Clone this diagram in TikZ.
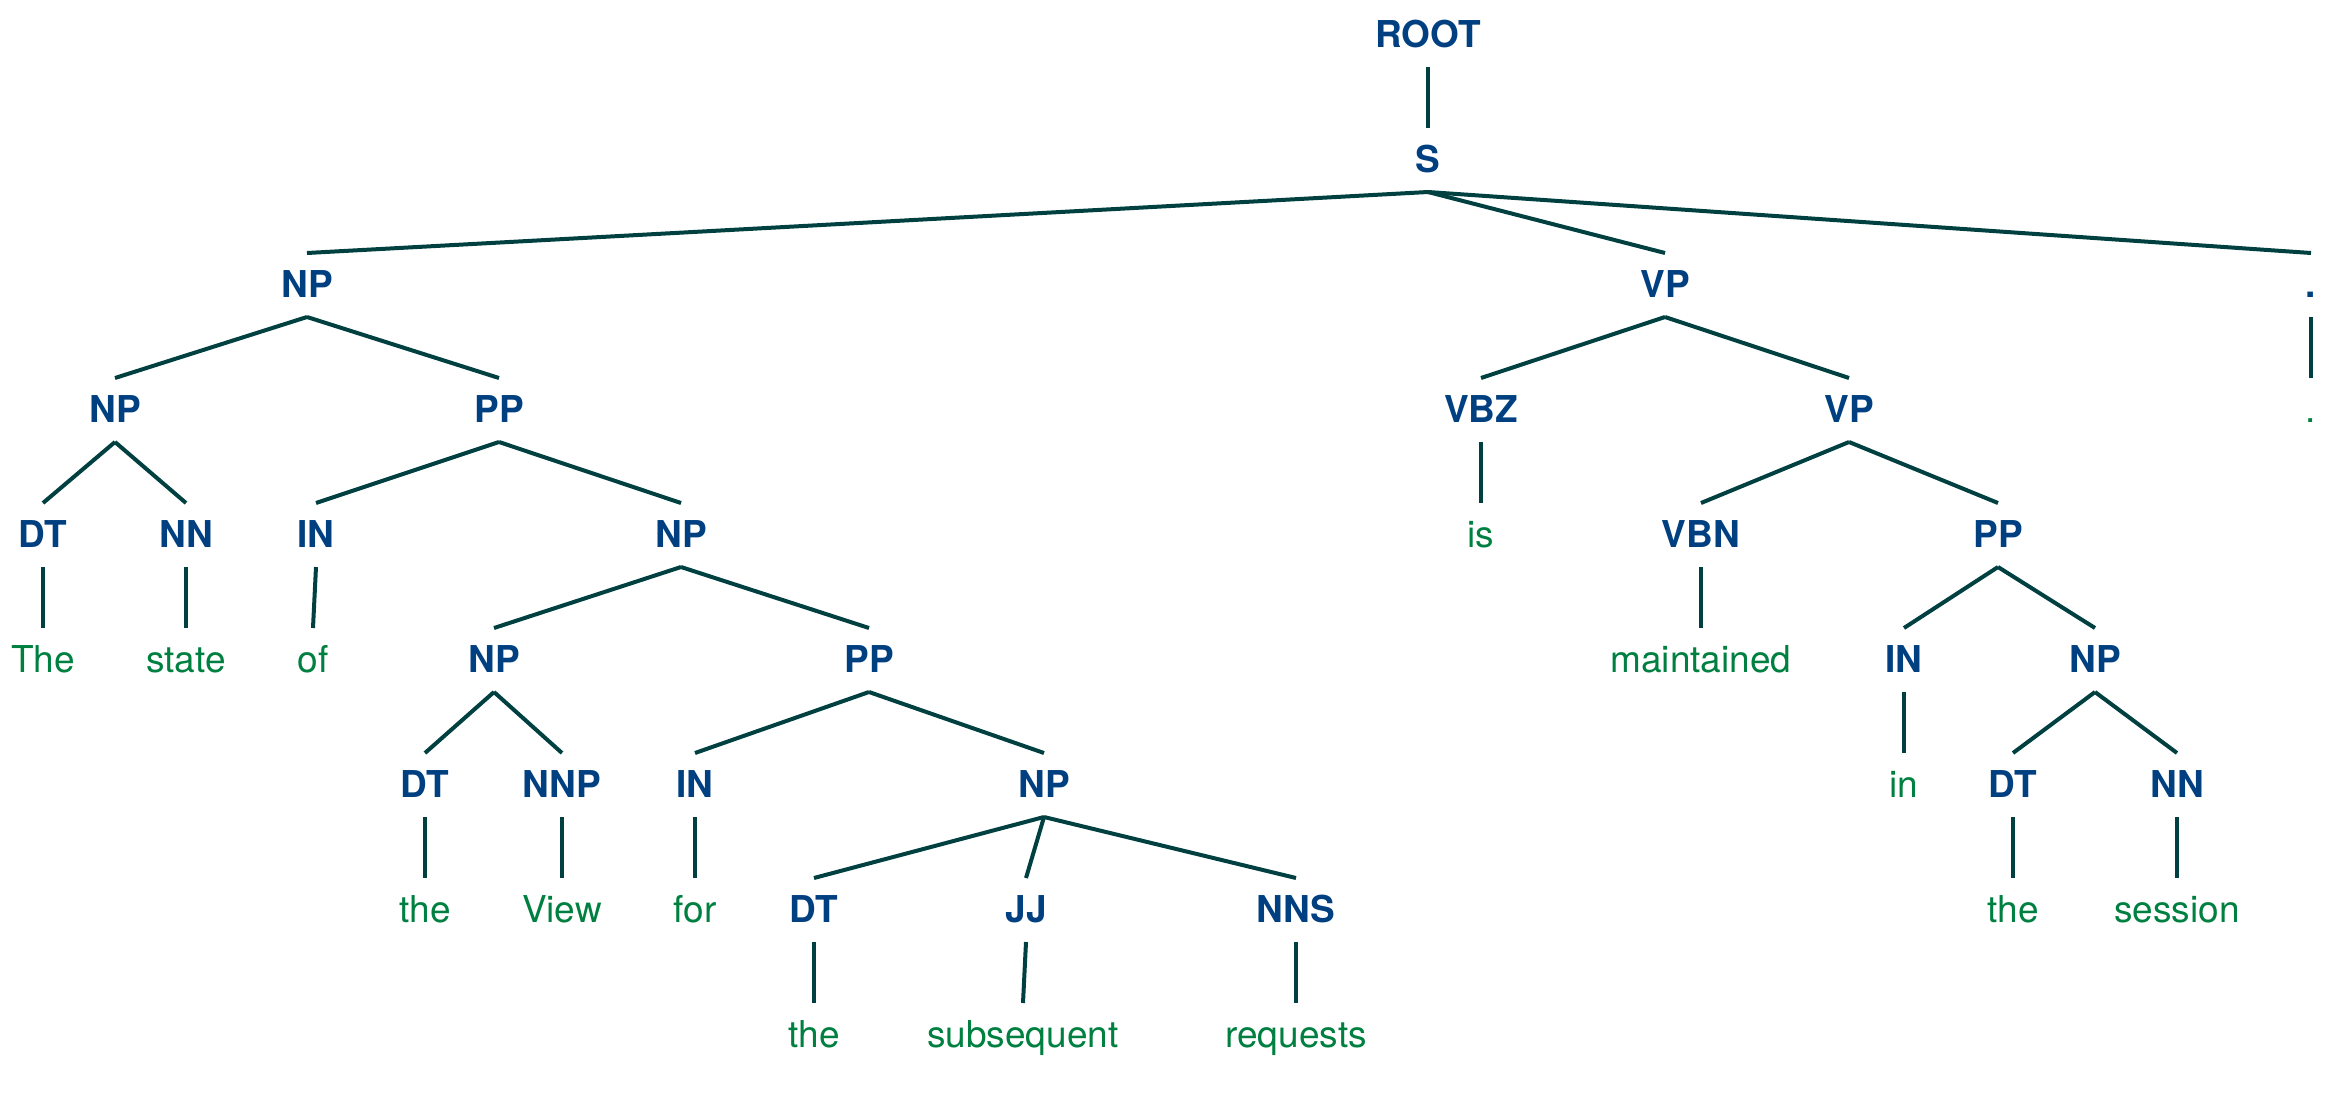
\documentclass[tikz,border=0pt]{standalone}
\usepackage{fontspec}
\setmainfont{TeX Gyre Heros}
\definecolor{labc}{RGB}{0,64,128}
\definecolor{wordc}{RGB}{0,128,64}
\definecolor{edgec}{RGB}{0,64,64}
\newcommand\treeedge[2]{\draw[edge] ([yshift=-20pt]#1.base) -- ([yshift=44pt]#2.base);}
\begin{document}
\begin{tikzpicture}[x=1pt,y=-1pt,
  cat/.style={anchor=base,inner sep=0pt,text=labc,font=\fontsize{37}{44}\selectfont\bfseries},
  word/.style={anchor=base,inner sep=0pt,text=wordc,font=\fontsize{37}{44}\selectfont},
  edge/.style={draw=edgec,line width=4pt}]
\useasboundingbox (0,0) rectangle (2338,1117);
% row 0,1
\node[cat] (root) at (1428,47) {ROOT};
\node[cat] (s) at (1428,172) {S};
% row 2
\node[cat] (np1) at (307,297) {NP};
\node[cat] (vp1) at (1665,297) {VP};
\node[cat] (dot) at (2311,297) {.};
% row 3
\node[cat] (np2) at (115,422) {NP};
\node[cat] (pp1) at (499,422) {PP};
\node[cat] (vbz) at (1481,422) {VBZ};
\node[cat] (vp2) at (1849,422) {VP};
\node[word] (wdot) at (2311,422) {.};
% row 4
\node[cat] (dt1) at (43,547) {DT};
\node[cat] (nn1) at (186,547) {NN};
\node[cat] (in1) at (316,547) {IN};
\node[cat] (np3) at (681,547) {NP};
\node[word] (wis) at (1481,547) {is};
\node[cat] (vbn) at (1701,547) {VBN};
\node[cat] (pp3) at (1998,547) {PP};
% row 5
\node[word] (wThe) at (43,672) {The};
\node[word] (wstate) at (186,672) {state};
\node[word] (wof) at (313,672) {of};
\node[cat] (np4) at (494,672) {NP};
\node[cat] (pp2) at (869,672) {PP};
\node[word] (wmaint) at (1701,672) {maintained};
\node[cat] (in3) at (1904,672) {IN};
\node[cat] (np6) at (2095,672) {NP};
% row 6
\node[cat] (dt2) at (425,797) {DT};
\node[cat] (nnp) at (562,797) {NNP};
\node[cat] (in2) at (695,797) {IN};
\node[cat] (np5) at (1044,797) {NP};
\node[word] (win) at (1904,797) {in};
\node[cat] (dt4) at (2013,797) {DT};
\node[cat] (nn2) at (2177,797) {NN};
% row 7
\node[word] (wthea) at (425,922) {the};
\node[word] (wview) at (562,922) {View};
\node[word] (wfor) at (695,922) {for};
\node[cat] (dt3) at (814,922) {DT};
\node[cat] (jj) at (1026,922) {JJ};
\node[cat] (nns) at (1296,922) {NNS};
\node[word] (wtheb) at (2013,922) {the};
\node[word] (wsession) at (2177,922) {session};
% row 8
\node[word] (wthec) at (814,1047) {the};
\node[word] (wsubs) at (1023,1047) {subsequent};
\node[word] (wreq) at (1296,1047) {requests};
% edges
\treeedge{root}{s}
\treeedge{s}{np1}
\treeedge{s}{vp1}
\treeedge{s}{dot}
\treeedge{np1}{np2}
\treeedge{np1}{pp1}
\treeedge{vp1}{vbz}
\treeedge{vp1}{vp2}
\treeedge{dot}{wdot}
\treeedge{np2}{dt1}
\treeedge{np2}{nn1}
\treeedge{pp1}{in1}
\treeedge{pp1}{np3}
\treeedge{vbz}{wis}
\treeedge{vp2}{vbn}
\treeedge{vp2}{pp3}
\treeedge{dt1}{wThe}
\treeedge{nn1}{wstate}
\treeedge{in1}{wof}
\treeedge{np3}{np4}
\treeedge{np3}{pp2}
\treeedge{vbn}{wmaint}
\treeedge{pp3}{in3}
\treeedge{pp3}{np6}
\treeedge{np4}{dt2}
\treeedge{np4}{nnp}
\treeedge{pp2}{in2}
\treeedge{pp2}{np5}
\treeedge{in3}{win}
\treeedge{np6}{dt4}
\treeedge{np6}{nn2}
\treeedge{dt2}{wthea}
\treeedge{nnp}{wview}
\treeedge{in2}{wfor}
\treeedge{np5}{dt3}
\treeedge{np5}{jj}
\treeedge{np5}{nns}
\treeedge{dt4}{wtheb}
\treeedge{nn2}{wsession}
\treeedge{dt3}{wthec}
\treeedge{jj}{wsubs}
\treeedge{nns}{wreq}
\end{tikzpicture}
\end{document}
